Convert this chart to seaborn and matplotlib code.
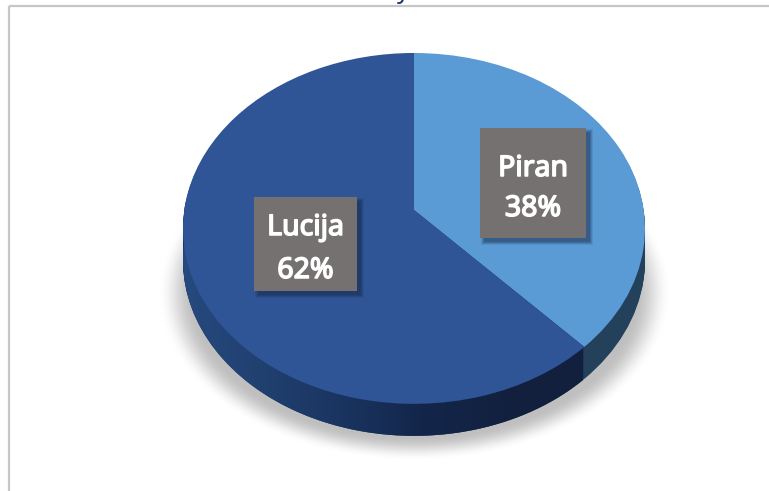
import numpy as np
import matplotlib
matplotlib.use('Agg')
import matplotlib.pyplot as plt
import matplotlib.patheffects as pe
import seaborn as sns
from matplotlib.colors import LinearSegmentedColormap
from matplotlib.patches import Polygon, Rectangle
from matplotlib.transforms import Affine2D, Transform

# Chart data
towns = ['Piran', 'Lucija']
shares = [38, 62]
top_colors = ['#5b9bd5', '#2f5597']
side_colors = ['#24415c', '#1b3560']

# Pie geometry in image pixels
PIE_X, PIE_Y = 414, 210
PIE_A, PIE_S, PIE_K = 229.7, 173.5, 0.105
DEPTH = 32

sns.set_style("white")
plt.rcParams['font.family'] = ['Noto Sans', 'DejaVu Sans']


class Tilt(Transform):
    # Perspective view of a unit circle lying on a table
    input_dims = 2
    output_dims = 2

    def transform_non_affine(self, values):
        values = np.asarray(values, dtype=float)
        w = 1 + PIE_K * values[:, 1]
        return np.column_stack([PIE_X + PIE_A * values[:, 0] / w,
                                PIE_Y - PIE_S * values[:, 1] / w])


fig = plt.figure(figsize=(7.69, 4.91), dpi=100)
ax = fig.add_axes([0, 0, 1, 1])
tilt = Tilt()

# Soft ground shadow
xx, yy = np.meshgrid(np.arange(140, 690), np.arange(200, 480))
ring = np.sqrt(((xx - 414) / 256) ** 2 + ((yy - 292) / 168) ** 2)
shadow = np.clip((1.0 - ring) / 0.14, 0, 1)
shadow = shadow * shadow * (3 - 2 * shadow)
shadow_cmap = LinearSegmentedColormap.from_list('shadow', ['#ffffff', '#bfbfbf'])
ax.imshow(shadow, extent=(140, 690, 480, 200), cmap=shadow_cmap, vmin=0, vmax=1,
          aspect='auto', zorder=1, interpolation='bilinear')


def draw_pie(colors, offset, zorder):
    wedges, _ = ax.pie(shares, colors=colors, startangle=90, counterclock=False,
                       radius=1, wedgeprops={'linewidth': 0})
    for w in wedges:
        w.set_transform(tilt + Affine2D().translate(0, offset) + ax.transData)
        w.set_zorder(zorder)
    return wedges


# Side wall: stacked copies of the pie
for d in range(DEPTH, 0, -1):
    draw_pie(side_colors, d, 2)

# Shading along the Lucija side wall
t = np.linspace(np.pi, 2 * np.pi, 200)
rim = tilt.transform(np.column_stack([np.cos(t), np.sin(t)]))
rim[:, 1] += DEPTH
rim_top = tilt.transform(np.column_stack([np.cos(t[::-1]), -np.sin(t[::-1])]))
outline = Polygon(np.vstack([rim, rim_top]), transform=ax.transData)
side_cmap = LinearSegmentedColormap.from_list(
    'side', ['#26497f', '#20406f', '#1a3460', '#13264a', '#12213f', '#12203d'])
xshade = np.linspace(0, 1, 256).reshape(1, -1)
img = ax.imshow(xshade, extent=(183, 583, 445, 200), cmap=side_cmap, aspect='auto',
                zorder=3, interpolation='bilinear')
img.set_clip_path(outline)

# Top face
draw_pie(top_colors, 0, 5)

ax.set_aspect('auto')
ax.set_xlim(0, 769)
ax.set_ylim(491, 0)
ax.axis('off')

# Chart frame and the clipped end of the title
ax.plot([9, 9], [491, 5.5], color='#c6c6c6', lw=1.6, zorder=6, solid_capstyle='butt')
ax.plot([9, 769], [5.5, 5.5], color='#c6c6c6', lw=1.6, zorder=6, solid_capstyle='butt')
ax.text(403, -2, 'y', color='#1f3864', fontsize=18, ha='center', va='baseline',
        zorder=7, clip_on=True)

# Data labels, thickened with a stroke because Noto Sans has no bold cut here
heavy = [pe.withStroke(linewidth=1.1, foreground='white')]
boxes = [(480, 128, 106, 110), (254, 197, 103, 94)]
baselines = [(176, 216), (235, 278)]
for town, share, (bx, by, bw, bh), (y1, y2) in zip(towns, shares, boxes, baselines):
    for grow, alpha in [(3, 0.10), (2, 0.14), (1, 0.18), (0, 0.22)]:
        ax.add_patch(Rectangle((bx + 4 - grow, by + 4 - grow), bw + 2 * grow, bh + 2 * grow,
                               facecolor='#14233f', alpha=alpha, linewidth=0, zorder=8))
    ax.add_patch(Rectangle((bx, by), bw, bh, facecolor='#767171', linewidth=0, zorder=9))
    ax.text(bx + bw / 2, y1, town, color='white', fontsize=20.5, path_effects=heavy,
            ha='center', va='baseline', zorder=10)
    ax.text(bx + bw / 2, y2, f'{share}%', color='white', fontsize=20.5, path_effects=heavy,
            ha='center', va='baseline', zorder=10)

fig.savefig('out.png', dpi=100)
